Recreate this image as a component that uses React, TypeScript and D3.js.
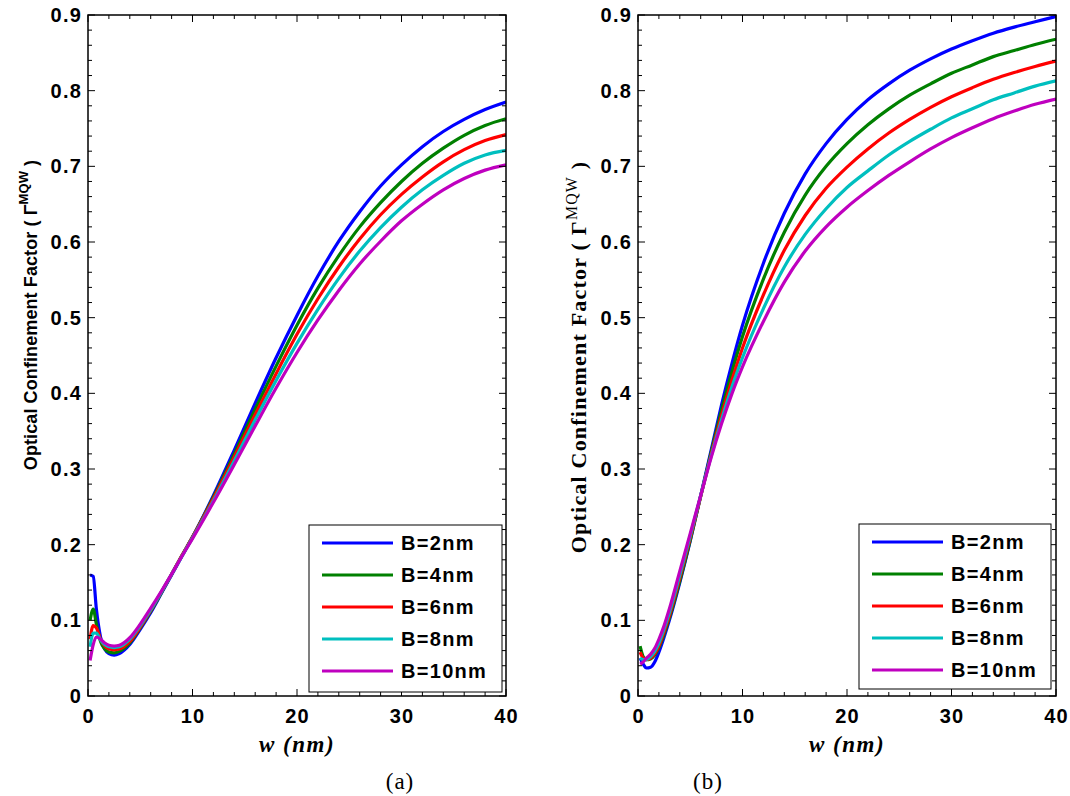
import React from "react";
import * as d3 from "d3";

// well width w (nm)
const wGrid = [0.2, 0.5, 0.8, 1.2, 1.6, 2, 2.5, 3, 4, 5, 6, 7, 8, 9, 10, 12, 14, 16, 18, 20, 22, 24, 26, 28, 30, 32, 34, 36, 38, 40];

// panel (a)
const aB2 = [0.16, 0.158, 0.115, 0.078, 0.062, 0.056, 0.054, 0.056, 0.068, 0.088, 0.11, 0.135, 0.16, 0.185, 0.21, 0.265, 0.325, 0.387, 0.447, 0.503, 0.555, 0.601, 0.64, 0.674, 0.702, 0.726, 0.746, 0.762, 0.775, 0.785];
const aB4 = [0.1, 0.115, 0.095, 0.072, 0.062, 0.058, 0.057, 0.059, 0.07, 0.09, 0.112, 0.136, 0.161, 0.186, 0.21, 0.263, 0.32, 0.379, 0.436, 0.49, 0.539, 0.582, 0.62, 0.652, 0.68, 0.704, 0.724, 0.741, 0.754, 0.763];
const aB6 = [0.075, 0.093, 0.09, 0.075, 0.066, 0.062, 0.061, 0.062, 0.072, 0.091, 0.113, 0.137, 0.161, 0.186, 0.21, 0.261, 0.316, 0.372, 0.426, 0.478, 0.525, 0.567, 0.604, 0.636, 0.663, 0.686, 0.706, 0.722, 0.734, 0.742];
const aB8 = [0.065, 0.083, 0.083, 0.074, 0.068, 0.065, 0.064, 0.065, 0.075, 0.093, 0.114, 0.137, 0.161, 0.185, 0.209, 0.258, 0.311, 0.365, 0.417, 0.466, 0.511, 0.552, 0.588, 0.619, 0.646, 0.669, 0.688, 0.704, 0.715, 0.721];
const aB10 = [0.047, 0.068, 0.078, 0.075, 0.07, 0.067, 0.066, 0.067, 0.077, 0.095, 0.116, 0.138, 0.161, 0.185, 0.208, 0.256, 0.306, 0.357, 0.407, 0.454, 0.497, 0.536, 0.571, 0.601, 0.628, 0.65, 0.669, 0.684, 0.695, 0.702];

// panel (b)
const bB2 = [0.05, 0.042, 0.037, 0.038, 0.045, 0.058, 0.078, 0.1, 0.15, 0.205, 0.265, 0.325, 0.385, 0.44, 0.49, 0.572, 0.638, 0.69, 0.73, 0.762, 0.788, 0.809, 0.827, 0.842, 0.855, 0.866, 0.876, 0.884, 0.891, 0.898];
const bB4 = [0.066, 0.052, 0.048, 0.049, 0.054, 0.064, 0.082, 0.103, 0.152, 0.206, 0.264, 0.322, 0.378, 0.429, 0.475, 0.551, 0.613, 0.662, 0.7, 0.73, 0.755, 0.776, 0.794, 0.809, 0.823, 0.834, 0.845, 0.853, 0.861, 0.868];
const bB6 = [0.058, 0.05, 0.048, 0.05, 0.056, 0.066, 0.085, 0.106, 0.156, 0.209, 0.264, 0.319, 0.371, 0.418, 0.46, 0.53, 0.589, 0.635, 0.671, 0.699, 0.723, 0.744, 0.762, 0.778, 0.792, 0.804, 0.815, 0.824, 0.832, 0.839];
const bB8 = [0.05, 0.048, 0.048, 0.052, 0.059, 0.07, 0.089, 0.11, 0.16, 0.212, 0.265, 0.317, 0.365, 0.409, 0.447, 0.512, 0.567, 0.61, 0.644, 0.672, 0.694, 0.715, 0.733, 0.749, 0.764, 0.776, 0.788, 0.797, 0.806, 0.813];
const bB10 = [0.042, 0.045, 0.05, 0.055, 0.063, 0.075, 0.093, 0.115, 0.165, 0.215, 0.265, 0.315, 0.36, 0.4, 0.435, 0.495, 0.547, 0.588, 0.62, 0.646, 0.668, 0.688, 0.706, 0.723, 0.738, 0.751, 0.763, 0.773, 0.782, 0.789];

const seriesNames = ["B=2nm", "B=4nm", "B=6nm", "B=8nm", "B=10nm"];
const seriesColors = ["#0000ff", "#008000", "#ff0000", "#00bfbf", "#bf00bf"];
const xTicks = [0, 10, 20, 30, 40];
const yTicks = [0, 0.1, 0.2, 0.3, 0.4, 0.5, 0.6, 0.7, 0.8, 0.9];

const sans = "'Liberation Sans', Arial, sans-serif";
const serif = "'Liberation Serif', 'Times New Roman', serif";

const top = 15;
const bottom = 696;

type PanelProps = {
  left: number;
  right: number;
  data: number[][];
  labelFont: string;
  labelSize: number;
  labelSpacing: number;
  labelX: number;
  labelY: number;
  supWeight: string;
  legend: { x: number; y: number; w: number; h: number };
  tag: string;
  tagX: number;
  id: string;
};

const Panel = (p: PanelProps) => {
  const x = d3.scaleLinear().domain([0, 40]).range([p.left, p.right]);
  const y = d3.scaleLinear().domain([0, 0.9]).range([bottom, top]);
  const line = d3
    .line<number>()
    .x((_, i) => x(wGrid[i]))
    .y((v) => y(v))
    .curve(d3.curveMonotoneX);

  const xMinor = d3.range(0, 40.01, 2);
  const yMinor = d3.range(0, 0.901, 0.02);
  const lx = p.legend.x;
  const ly = p.legend.y;

  return (
    <g>
      <defs>
        <clipPath id={p.id}>
          <rect x={p.left} y={top} width={p.right - p.left} height={bottom - top} />
        </clipPath>
      </defs>
      <g clipPath={`url(#${p.id})`}>
        {p.data.map((s, i) => (
          <path key={i} d={line(s) || ""} fill="none" stroke={seriesColors[i]} strokeWidth={3.2} />
        ))}
      </g>
      {/* ticks point inward on all four sides */}
      {xMinor.map((t) => {
        const len = t % 10 === 0 ? 7 : 4;
        return (
          <g key={"x" + t} stroke="#000" strokeWidth={1}>
            <line x1={x(t)} x2={x(t)} y1={bottom} y2={bottom - len} />
            <line x1={x(t)} x2={x(t)} y1={top} y2={top + len} />
          </g>
        );
      })}
      {yMinor.map((t, i) => {
        const len = i % 5 === 0 ? 7 : 4;
        return (
          <g key={"y" + i} stroke="#000" strokeWidth={1}>
            <line x1={p.left} x2={p.left + len} y1={y(t)} y2={y(t)} />
            <line x1={p.right} x2={p.right - len} y1={y(t)} y2={y(t)} />
          </g>
        );
      })}
      <rect x={p.left} y={top} width={p.right - p.left} height={bottom - top} fill="none" stroke="#000" strokeWidth={1.5} />
      {xTicks.map((t) => (
        <text key={t} x={x(t) + 0.6} y={723} textAnchor="middle" fontFamily={sans} fontWeight="bold" fontSize={20} letterSpacing={1.2}>
          {t}
        </text>
      ))}
      {yTicks.map((t) => (
        <text key={t} x={p.left - 6} y={y(t) + 7} textAnchor="end" fontFamily={sans} fontWeight="bold" fontSize={20} letterSpacing={1.2}>
          {t === 0 ? "0" : t.toFixed(1)}
        </text>
      ))}
      <text
        x={(p.left + p.right) / 2}
        y={752}
        textAnchor="middle"
        fontFamily={serif}
        fontStyle="italic"
        fontWeight="bold"
        fontSize={23}
        letterSpacing={1.5}
      >
        w (nm)
      </text>
      <text x={p.tagX} y={789} textAnchor="middle" fontFamily={serif} fontSize={23} letterSpacing={1}>
        {p.tag}
      </text>
      <text
        transform={`translate(${p.labelX},${p.labelY}) rotate(-90)`}
        textAnchor="middle"
        fontFamily={p.labelFont}
        fontWeight="bold"
        fontSize={p.labelSize}
        letterSpacing={p.labelSpacing}
      >
        Optical Confinement Factor ( Γ
        <tspan dy={-9} fontSize={p.labelSize * 0.72} fontWeight={p.supWeight}>
          MQW
        </tspan>
        <tspan dy={9}> )</tspan>
      </text>
      <rect x={lx} y={ly} width={p.legend.w} height={p.legend.h} fill="#fff" stroke="#000" strokeWidth={1} />
      {seriesNames.map((n, i) => {
        const ry = ly + 18 + i * 32;
        return (
          <g key={n}>
            <line x1={lx + 13} x2={lx + 84} y1={ry} y2={ry} stroke={seriesColors[i]} strokeWidth={3} />
            <text x={lx + 92} y={ry + 7} fontFamily={sans} fontWeight="bold" fontSize={20} letterSpacing={1.3}>
              {n}
            </text>
          </g>
        );
      })}
    </g>
  );
};

export default function App() {
  return (
    <svg width={1070} height={796} style={{ position: "absolute", left: 0, top: 0, background: "#fff" }}>
      <Panel
        id="clipA"
        left={88}
        right={506}
        data={[aB2, aB4, aB6, aB8, aB10]}
        labelFont={sans}
        labelSize={18}
        labelSpacing={0.1}
        labelX={37}
        labelY={315}
        supWeight="bold"
        legend={{ x: 309, y: 525, w: 193, h: 167 }}
        tag="(a)"
        tagX={400}
      />
      <Panel
        id="clipB"
        left={638}
        right={1056}
        data={[bB2, bB4, bB6, bB8, bB10]}
        labelFont={serif}
        labelSize={22}
        labelSpacing={1.2}
        labelX={586}
        labelY={357}
        supWeight="normal"
        legend={{ x: 859, y: 524, w: 192, h: 165 }}
        tag="(b)"
        tagX={708}
      />
    </svg>
  );
}
